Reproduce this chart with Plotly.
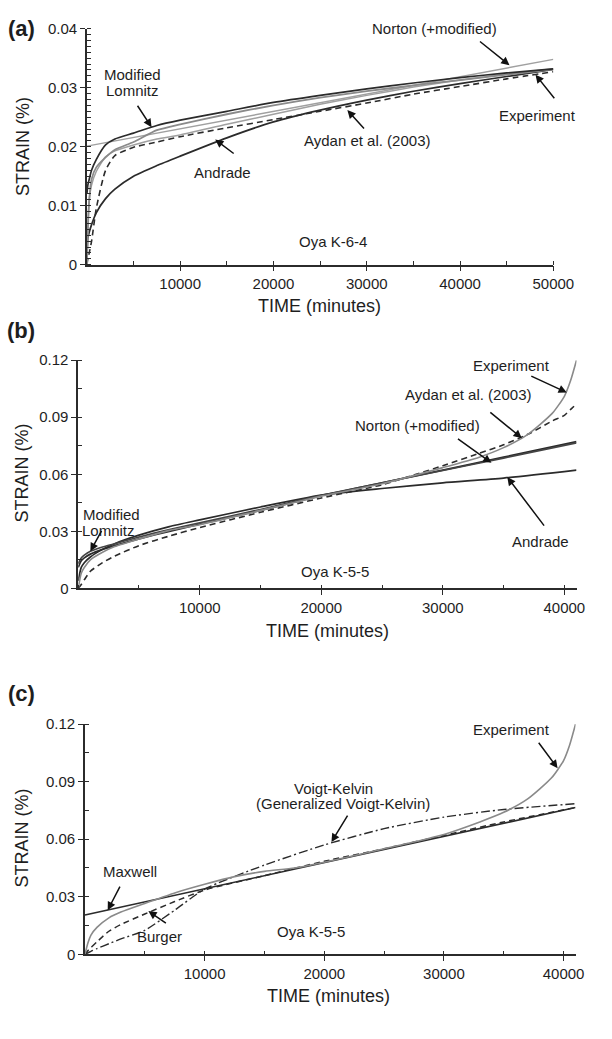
import plotly.graph_objects as go

# ---------------- data ----------------
# Panel (a): Oya K-6-4
A_T = [0, 100, 250, 500, 1000, 2000, 3000, 5000, 7500, 10000, 15000, 20000, 25000, 30000, 35000, 40000, 45000, 50000]
A_EXPERIMENT = [0.0, 0.006, 0.011, 0.0145, 0.0165, 0.0182, 0.0195, 0.0208, 0.0228, 0.0238, 0.0255, 0.027, 0.0283, 0.0294, 0.0304, 0.0313, 0.0322, 0.0331]
A_LOMNITZ = [0.012, 0.0135, 0.0145, 0.016, 0.0178, 0.0203, 0.0213, 0.0223, 0.0236, 0.0245, 0.026, 0.0275, 0.0287, 0.0298, 0.0308, 0.0317, 0.0325, 0.0332]
A_NORTON_MOD = [0.0, 0.006, 0.011, 0.0135, 0.0158, 0.0183, 0.0193, 0.0203, 0.0213, 0.022, 0.0238, 0.0255, 0.0272, 0.0287, 0.0301, 0.0313, 0.0323, 0.0332]
A_AYDAN = [0.0, 0.001, 0.002, 0.004, 0.0095, 0.016, 0.0185, 0.0199, 0.0208, 0.0217, 0.0232, 0.0246, 0.026, 0.0274, 0.0289, 0.0302, 0.0315, 0.0327]
A_ANDRADE = [0.0015, 0.0045, 0.0055, 0.0068, 0.0088, 0.0112, 0.0128, 0.015, 0.0168, 0.0184, 0.0215, 0.0242, 0.0262, 0.0279, 0.0294, 0.0307, 0.0319, 0.0331]
A_NORTON_T = [0, 50000]
A_NORTON = [0.0201, 0.0348]

# Panel (b): Oya K-5-5
B_T = [0, 250, 500, 1000, 2000, 3000, 5000, 7500, 10000, 15000, 20000, 25000, 30000, 33000, 35000, 37000, 39000, 40000, 40500, 41000]
B_EXPERIMENT = [0.0, 0.008, 0.011, 0.015, 0.019, 0.022, 0.026, 0.0305, 0.0335, 0.041, 0.0485, 0.055, 0.0635, 0.069, 0.074, 0.081, 0.092, 0.101, 0.109, 0.12]
B_AYDAN = [0.0, 0.002, 0.0045, 0.009, 0.0135, 0.017, 0.0225, 0.0275, 0.032, 0.040, 0.0475, 0.0545, 0.0645, 0.071, 0.0755, 0.081, 0.088, 0.091, 0.094, 0.097]
B_T2 = [0, 250, 500, 1000, 2000, 3000, 5000, 7500, 10000, 15000, 20000, 25000, 30000, 35000, 41000]
B_LOMNITZ = [0.013, 0.016, 0.0175, 0.0195, 0.0218, 0.0235, 0.027, 0.031, 0.0345, 0.0415, 0.049, 0.0555, 0.062, 0.0685, 0.0765]
B_NORTON = [0.011, 0.0145, 0.016, 0.018, 0.0205, 0.0225, 0.026, 0.030, 0.0338, 0.041, 0.0488, 0.0555, 0.0622, 0.069, 0.0772]
B_ANDRADE = [0.004, 0.011, 0.0135, 0.0165, 0.0205, 0.0235, 0.028, 0.0325, 0.036, 0.0428, 0.049, 0.0525, 0.0555, 0.058, 0.0622]

# Panel (c): Oya K-5-5
C_T = [0, 250, 500, 1000, 2000, 3000, 5000, 7500, 10000, 12500, 15000, 17500, 20000, 25000, 30000, 33000, 35000, 37000, 39000, 40000, 40500, 41000]
C_EXPERIMENT = [0.0, 0.006, 0.010, 0.014, 0.019, 0.022, 0.0265, 0.032, 0.0365, 0.0405, 0.0432, 0.045, 0.048, 0.055, 0.0625, 0.069, 0.074, 0.081, 0.092, 0.101, 0.109, 0.12]
C_T2 = [0, 250, 500, 1000, 2000, 3000, 5000, 7500, 10000, 15000, 20000, 25000, 30000, 35000, 41000]
C_BURGER = [0.0, 0.002, 0.0035, 0.0065, 0.012, 0.0155, 0.021, 0.0275, 0.0335, 0.041, 0.0485, 0.055, 0.062, 0.069, 0.0765]
C_VOIGT = [0.0, 0.0008, 0.0015, 0.003, 0.0055, 0.008, 0.0125, 0.023, 0.034, 0.0465, 0.057, 0.0655, 0.0715, 0.0755, 0.0785]
C_MAXWELL_T = [0, 41000]
C_MAXWELL = [0.0205, 0.0765]

# ---------------- layout helpers ----------------
W, H = 612, 1039
def px(x):
    return x / W
def py(y):
    return 1 - y / H

DARK = "#2b2b2b"
GREY = "#8a8a8a"
LIGHT = "#a0a0a0"
FONT = "Liberation Sans, Arial, sans-serif"
TXT = "#1e1e1e"
TICK_SIZE = 15
ANN_SIZE = 15
TITLE_SIZE = 18

fig = go.Figure()

def line(xa, ya, x, y, color, width=1.6, dash="solid"):
    fig.add_trace(go.Scatter(x=x, y=y, mode="lines", xaxis=xa, yaxis=ya,
                             line=dict(color=color, width=width, dash=dash, shape="spline", smoothing=0.6),
                             showlegend=False, hoverinfo="skip"))

DASH = "6px,4px"
DASHDOT = "9px,3px,2px,3px"

# panel a
line("x", "y", A_NORTON_T, A_NORTON, LIGHT, 1.4)
line("x", "y", A_T, A_ANDRADE, DARK, 1.7)
line("x", "y", A_T, A_AYDAN, DARK, 1.6, DASH)
line("x", "y", A_T, A_NORTON_MOD, LIGHT, 1.5)
line("x", "y", A_T, A_EXPERIMENT, GREY, 1.8)
line("x", "y", A_T, A_LOMNITZ, DARK, 1.7)
# panel b
line("x2", "y2", B_T2, B_ANDRADE, DARK, 1.7)
line("x2", "y2", B_T2, B_NORTON, DARK, 1.7)
line("x2", "y2", B_T2, B_LOMNITZ, "#444444", 1.6)
line("x2", "y2", B_T, B_AYDAN, DARK, 1.6, DASH)
line("x2", "y2", B_T, B_EXPERIMENT, GREY, 1.6)
# panel c
line("x3", "y3", C_MAXWELL_T, C_MAXWELL, DARK, 1.6)
line("x3", "y3", C_T2, C_BURGER, DARK, 1.5, DASH)
line("x3", "y3", C_T2, C_VOIGT, DARK, 1.4, DASHDOT)
line("x3", "y3", C_T, C_EXPERIMENT, GREY, 1.6)

def xaxis(dom, rng, tickvals, anchor, minor_dtick):
    return dict(domain=dom, range=rng, anchor=anchor, showgrid=False, zeroline=False,
                showline=True, linecolor=DARK, linewidth=1.5,
                tickmode="array", tickvals=tickvals, ticktext=[str(v) for v in tickvals],
                ticks="outside", ticklen=5, tickwidth=1.2, tickcolor=DARK,
                tickfont=dict(family=FONT, size=TICK_SIZE, color=TXT),
                minor=dict(dtick=minor_dtick, tick0=0, ticks="inside", ticklen=4, tickwidth=1, tickcolor=DARK, showgrid=False),
                fixedrange=True)

def yaxis(dom, rng, tickvals, ticktext, anchor, minor_dtick):
    return dict(domain=dom, range=rng, anchor=anchor, showgrid=False, zeroline=False,
                showline=True, linecolor=DARK, linewidth=1.5,
                tickmode="array", tickvals=tickvals, ticktext=ticktext,
                ticks="outside", ticklen=5, tickwidth=1.2, tickcolor=DARK,
                tickfont=dict(family=FONT, size=TICK_SIZE, color=TXT),
                minor=dict(dtick=minor_dtick, tick0=0, ticks="inside", ticklen=4, tickwidth=1, tickcolor=DARK, showgrid=False),
                fixedrange=True)

fig.update_layout(
    width=W, height=H, margin=dict(l=0, r=0, t=0, b=0),
    paper_bgcolor="white", plot_bgcolor="white",
    xaxis=xaxis([px(90), px(573)], [0, 50000], [10000, 20000, 30000, 40000, 50000], "y", 5000),
    yaxis=yaxis([py(260), py(20)], [0, 0.04], [0, 0.01, 0.02, 0.03, 0.04], ["0", "0.01", "0.02", "0.03", "0.04"], "x", 0.001),
    xaxis2=xaxis([px(81), px(597)], [0, 41000], [10000, 20000, 30000, 40000], "y2", 5000),
    yaxis2=yaxis([py(589), py(357)], [0, 0.12], [0, 0.03, 0.06, 0.09, 0.12], ["0", "0.03", "0.06", "0.09", "0.12"], "x2", 0.015),
    xaxis3=xaxis([px(88), px(596)], [0, 41000], [10000, 20000, 30000, 40000], "y3", 5000),
    yaxis3=yaxis([py(961), py(727)], [0, 0.12], [0, 0.03, 0.06, 0.09, 0.12], ["0", "0.03", "0.06", "0.09", "0.12"], "x3", 0.015),
)

ann = []
def text(x, y, s, size=ANN_SIZE, bold=False, angle=0):
    ann.append(dict(xref="paper", yref="paper", x=px(x), y=py(y), text=("<b>%s</b>" % s) if bold else s,
                    showarrow=False, xanchor="center", yanchor="middle", textangle=angle,
                    font=dict(family=FONT, size=size, color=TXT)))

def arrow(xa, ya, tipx, tipy, ax, ay):
    ann.append(dict(xref=xa, yref=ya, x=tipx, y=tipy, ax=ax, ay=ay, text="", showarrow=True,
                    arrowhead=2, arrowsize=1.1, arrowwidth=1.5, arrowcolor="#111111", standoff=0))

# panel labels and axis titles
text(22, 20, "(a)", 22, True)
text(22, 327, "(b)", 22, True)
text(22, 696, "(c)", 22, True)
for yc in (140, 472, 843):
    text(23, yc, "STRAIN (%)", TITLE_SIZE, angle=-90)
text(331, 302, "TIME (minutes)", TITLE_SIZE)
text(339, 632, "TIME (minutes)", TITLE_SIZE)
text(340, 1003, "TIME (minutes)", TITLE_SIZE)

# panel a labels
text(137, 67, "Modified"); text(137, 83, "Lomnitz")
arrow("x", "y", 6930, 0.0233, -15, -23)
text(450, 20, "Norton (+modified)")
arrow("x", "y", 45300, 0.0338, -31, -25)
text(557, 108, "Experiment")
arrow("x", "y", 48090, 0.0322, 20, 25)
text(380, 134, "Aydan et al. (2003)")
arrow("x", "y", 27920, 0.0262, 18, 20)
text(230, 166, "Andrade")
arrow("x", "y", 13750, 0.0212, 20, 15)
text(345, 236, "Oya K-6-4")

# panel b labels
text(530, 362, "Experiment")
arrow("x2", "y2", 40200, 0.103, -37, -17)
text(485, 392, "Aydan et al. (2003)")
arrow("x2", "y2", 36500, 0.079, -33, -27)
text(432, 423, "Norton (+modified)")
arrow("x2", "y2", 34000, 0.066, -35, -25)
text(560, 541, "Andrade")
arrow("x2", "y2", 35300, 0.0585, 38, 50)
text(115, 514, "Modified"); text(112, 530, "Lomnitz")
arrow("x2", "y2", 1000, 0.0195, 12, -22)
text(347, 572, "Oya K-5-5")

# panel c labels
text(530, 732, "Experiment")
arrow("x3", "y3", 39500, 0.097, -20, -27)
text(345, 792, "Voigt-Kelvin")
text(355, 808, "(Generalized Voigt-Kelvin)")
arrow("x3", "y3", 20600, 0.0585, 17, -28)
text(135, 877, "Maxwell")
arrow("x3", "y3", 1900, 0.023, 13, -25)
text(165, 943, "Burger")
arrow("x3", "y3", 5300, 0.0225, 19, 13)
text(322, 938, "Oya K-5-5")

fig.update_layout(annotations=ann)
fig.write_html("out.html")
